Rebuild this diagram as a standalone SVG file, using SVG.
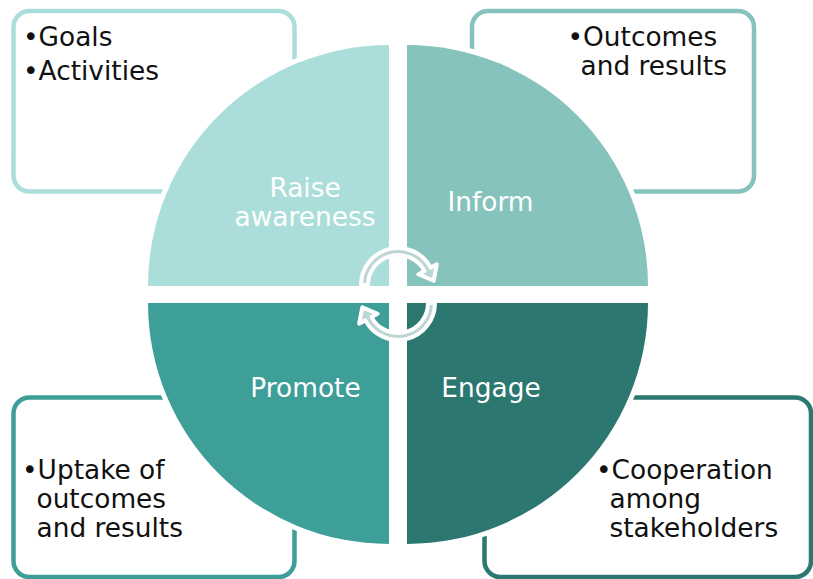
<svg xmlns="http://www.w3.org/2000/svg" width="813" height="579" viewBox="0 0 813 579">
<style>
.box{fill:#FFFFFF;stroke-width:4.5}
.q{stroke:#FFFFFF;stroke-width:10;paint-order:stroke}
.t{font-family:"DejaVu Sans","Liberation Sans",sans-serif;font-size:26.4px;fill:#111111}
.lbl{font-family:"DejaVu Sans","Liberation Sans",sans-serif;font-size:26.4px;fill:#FFFFFF;text-anchor:middle}
.arr{fill:#BDD6D3;stroke:#FFFFFF;stroke-width:4;stroke-linejoin:round}
</style>
<rect width="813" height="579" fill="#FFFFFF"/>
<g id="box-raise">
<rect class="box" x="13.5" y="11" width="281" height="180.5" rx="16" stroke="#ABDEDA"/>
<text class="t" x="23" y="46">•Goals</text>
<text class="t" x="23" y="80">•Activities</text>
</g>
<g id="box-inform">
<rect class="box" x="472" y="11" width="282" height="180.5" rx="16" stroke="#86C3BD"/>
<text class="t" x="567.5" y="46">•Outcomes</text>
<text class="t" x="580.5" y="75">and results</text>
</g>
<g id="box-promote">
<rect class="box" x="13.5" y="397.5" width="281" height="179.5" rx="16" stroke="#3E9E98"/>
<text class="t" x="22" y="479">•Uptake of</text>
<text class="t" x="36.5" y="508">outcomes</text>
<text class="t" x="36.5" y="537">and results</text>
</g>
<g id="box-engage">
<rect class="box" x="484.5" y="397.5" width="326.5" height="179.5" rx="16" stroke="#2C7871"/>
<text class="t" x="596" y="479">•Cooperation</text>
<text class="t" x="609.5" y="508">among</text>
<text class="t" x="609.5" y="537">stakeholders</text>
</g>
<g id="raise-awareness">
<path class="q" fill="#ABDEDA" d="M389,286 L148,286 A241,241 0 0 1 389,45 Z"/>
<text class="lbl" x="305" y="196.5">Raise</text>
<text class="lbl" x="305" y="226">awareness</text>
</g>
<g id="inform">
<path class="q" fill="#86C3BD" d="M407,286 L407,45 A241,241 0 0 1 648,286 Z"/>
<text class="lbl" x="490.5" y="211">Inform</text>
</g>
<g id="promote">
<path class="q" fill="#3E9E98" d="M389,303 L389,544 A241,241 0 0 1 148,303 Z"/>
<text class="lbl" x="305.5" y="396.5">Promote</text>
</g>
<g id="engage">
<path class="q" fill="#2C7871" d="M407,303 L648,303 A241,241 0 0 1 407,544 Z"/>
<text class="lbl" x="491" y="396.5">Engage</text>
</g>
<g id="connectors">
<path class="arr" d="M361,285 A37,37 0 0 1 430.67,267.63 L436.85,264.34 L433.68,280.75 L418.31,274.2 L424.49,270.92 A30,30 0 0 0 368,285 Z"/>
<path class="arr" transform="rotate(180 398 294)" d="M361,285 A37,37 0 0 1 430.67,267.63 L436.85,264.34 L433.68,280.75 L418.31,274.2 L424.49,270.92 A30,30 0 0 0 368,285 Z"/>
</g>
</svg>
